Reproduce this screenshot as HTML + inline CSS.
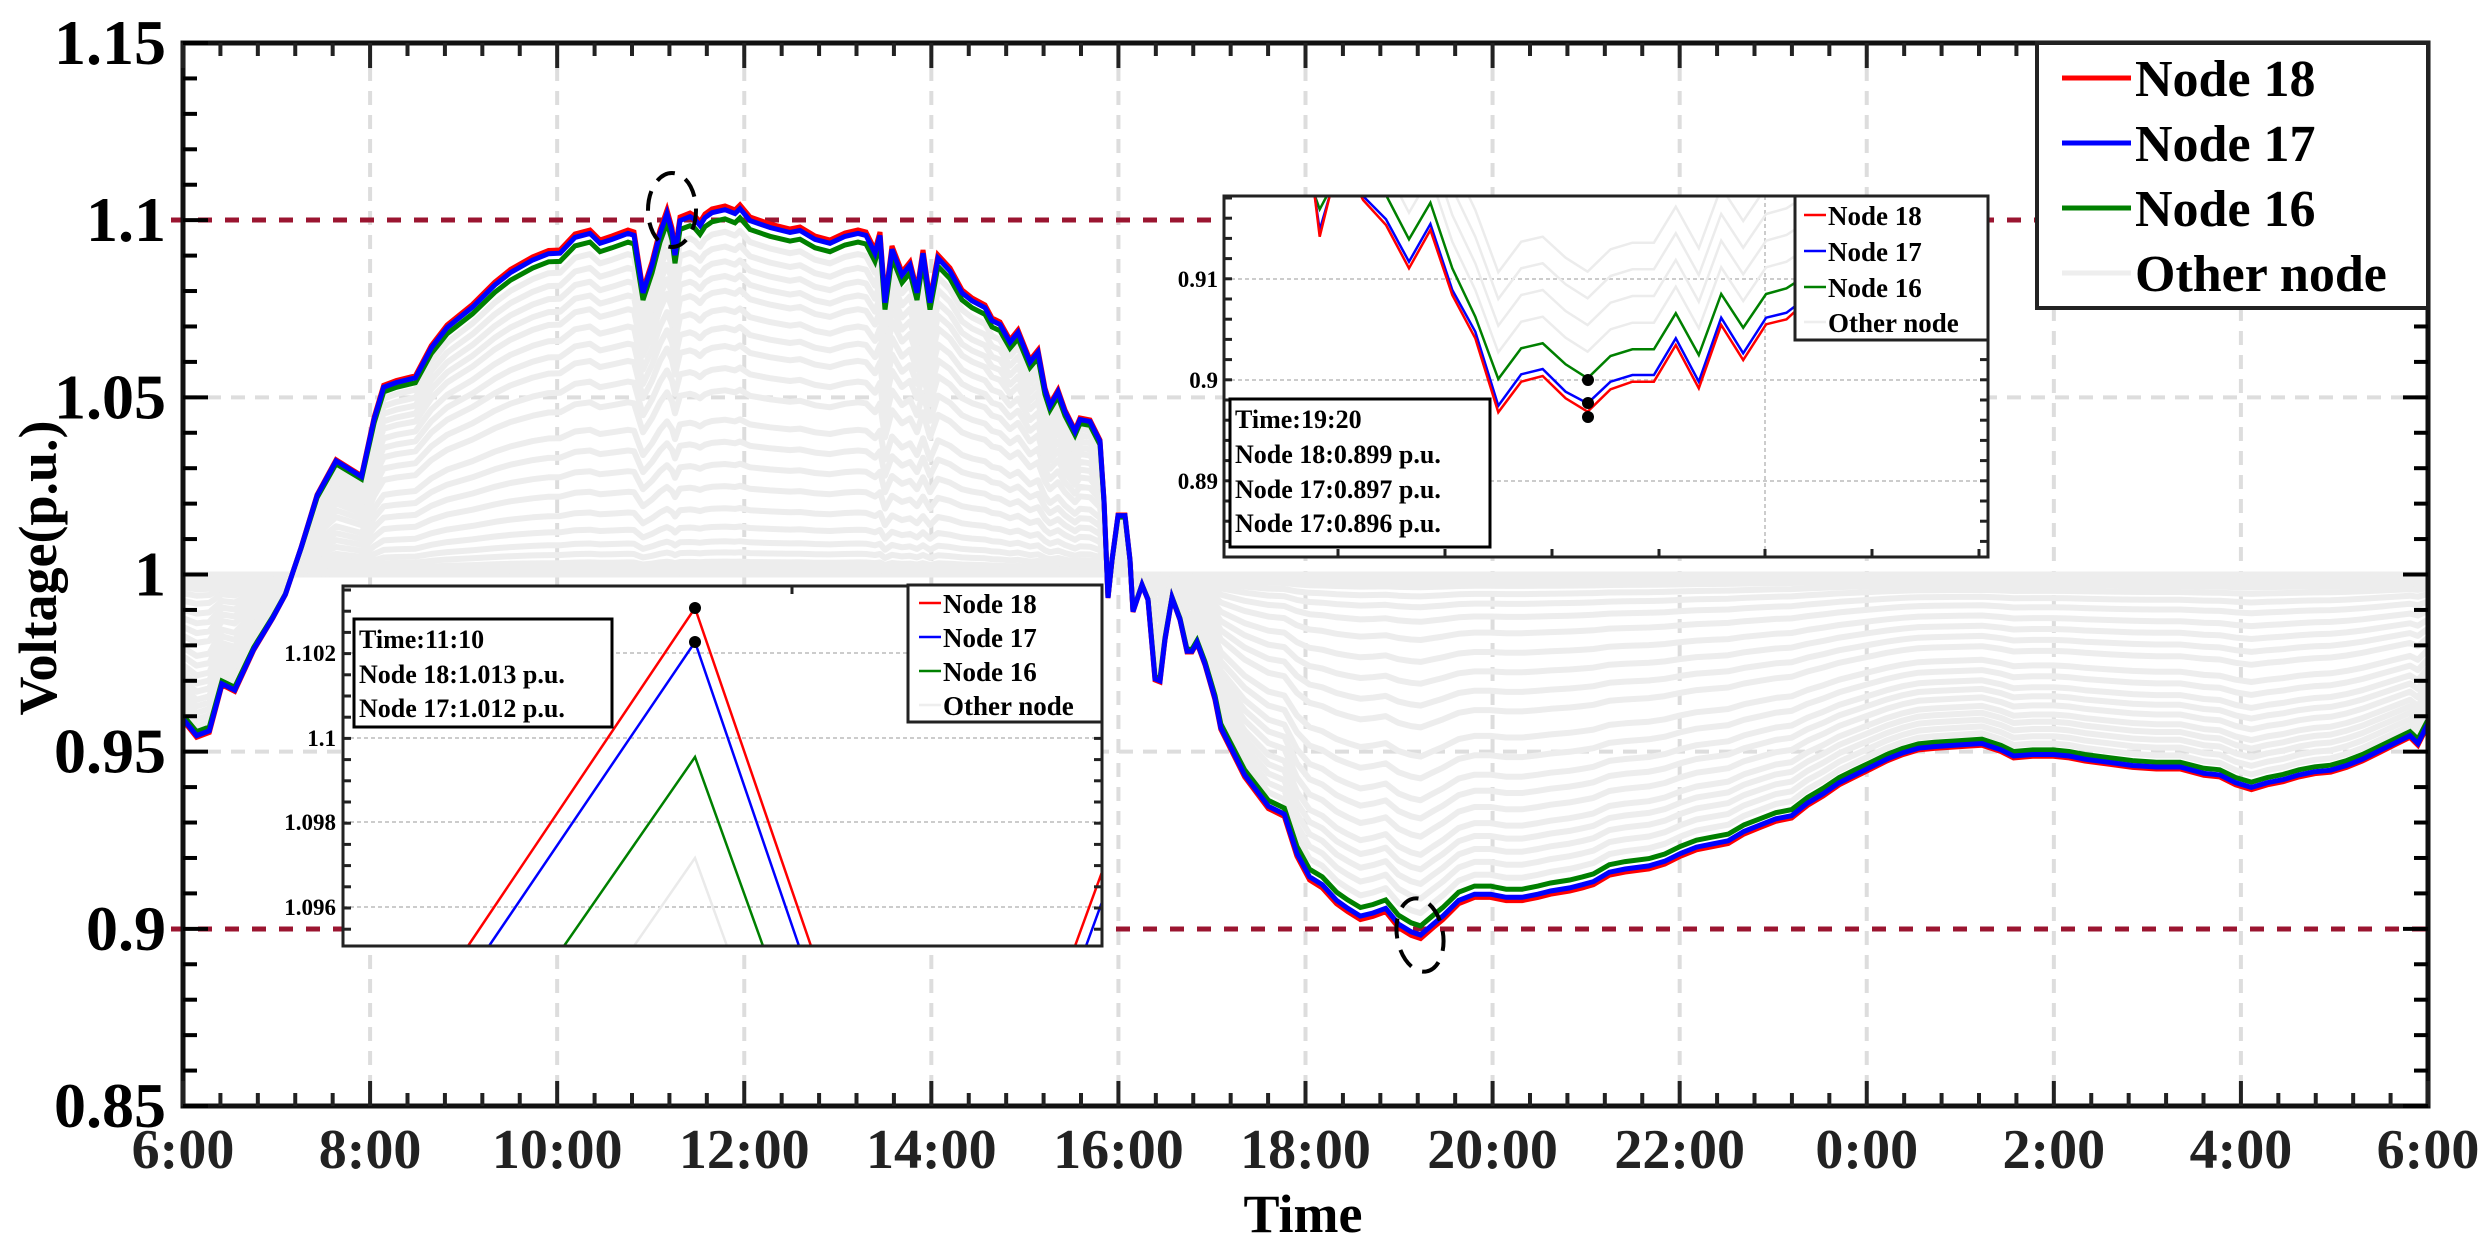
<!DOCTYPE html>
<html><head><meta charset="utf-8"><style>
html,body{margin:0;padding:0;background:#fff;}
svg{display:block;font-family:"Liberation Serif",serif;font-weight:bold;}
</style></head><body>
<svg id="s" width="2486" height="1255" viewBox="0 0 2486 1255" xmlns="http://www.w3.org/2000/svg">
<defs>
<clipPath id="pc"><rect x="183" y="43" width="2245" height="1063"/></clipPath>
<clipPath id="c1"><rect x="343" y="586" width="759" height="360"/></clipPath>
<clipPath id="c2"><rect x="1224" y="196" width="764" height="361"/></clipPath>
</defs>
<g id="grid"></g>
<g id="greys" clip-path="url(#pc)"></g>
<line x1="171" y1="220" x2="2428" y2="220" stroke="#9b1530" stroke-width="5" stroke-dasharray="14,13"/>
<line x1="171" y1="929" x2="2428" y2="929" stroke="#9b1530" stroke-width="5" stroke-dasharray="14,13"/>
<g id="cols" clip-path="url(#pc)"></g>
<ellipse cx="672" cy="210" rx="24" ry="37" fill="none" stroke="#000" stroke-width="4" stroke-dasharray="20,12"/>
<ellipse cx="1420" cy="935" rx="23" ry="37" fill="none" stroke="#000" stroke-width="4" stroke-dasharray="20,12" transform="rotate(-10 1420 935)"/>
<g id="axes"></g>
<!-- inset 1 -->
<g>
<rect x="343" y="586" width="759" height="360" fill="#fff"/>
<g stroke="#ccc" stroke-width="2" stroke-dasharray="4,3">
<line x1="343" y1="653" x2="1102" y2="653"/><line x1="343" y1="738" x2="1102" y2="738"/>
<line x1="343" y1="822" x2="1102" y2="822"/><line x1="343" y1="907" x2="1102" y2="907"/>
</g>
<g clip-path="url(#c1)" fill="none" stroke-width="2.5">
<polyline points="634,946 695,858 727,946" stroke="#eaeaea"/>
<polyline points="564,946 695,757 763,946" stroke="#008000"/>
<polyline points="489,946 695,642 799,946" stroke="#0000ff"/>
<polyline points="468,946 695,608 811,946" stroke="#ff0000"/>
<polyline points="1075,946 1102,872" stroke="#ff0000"/>
<polyline points="1086,946 1102,902" stroke="#0000ff"/>
</g>
<circle cx="695" cy="608" r="6"/><circle cx="695" cy="642" r="6"/>
<rect x="343" y="586" width="759" height="360" fill="none" stroke="#222" stroke-width="3"/>
<g id="t1"></g>
<g font-size="23" text-anchor="end">
<text x="336" y="661">1.102</text><text x="336" y="746">1.1</text>
<text x="336" y="830">1.098</text><text x="336" y="915">1.096</text>
</g>
<rect x="354" y="619" width="258" height="108" fill="#fff" stroke="#000" stroke-width="3"/>
<g font-size="26"><text x="359" y="648">Time:11:10</text><text x="359" y="683">Node 18:1.013 p.u.</text><text x="359" y="717">Node 17:1.012 p.u.</text></g>
<rect x="908" y="585" width="194" height="137" fill="#fff" stroke="#222" stroke-width="3"/>
<g stroke-width="2.5"><line x1="919" y1="603" x2="941" y2="603" stroke="#f00"/><line x1="919" y1="637" x2="941" y2="637" stroke="#00f"/><line x1="919" y1="671" x2="941" y2="671" stroke="#008000"/><line x1="919" y1="705" x2="941" y2="705" stroke="#eee"/></g>
<g font-size="27"><text x="943" y="613">Node 18</text><text x="943" y="647">Node 17</text><text x="943" y="681">Node 16</text><text x="943" y="715">Other node</text></g>
</g>
<!-- inset 2 -->
<g>
<rect x="1224" y="196" width="764" height="361" fill="#fff"/>
<g stroke="#ccc" stroke-width="2" stroke-dasharray="4,3">
<line x1="1224" y1="279" x2="1988" y2="279"/><line x1="1224" y1="380" x2="1988" y2="380"/><line x1="1224" y1="481" x2="1988" y2="481"/>
<line x1="1765" y1="196" x2="1765" y2="557"/>
</g>
<g id="in2" clip-path="url(#c2)" fill="none" stroke-width="2.5"></g>
<circle cx="1588" cy="380" r="6"/><circle cx="1588" cy="403" r="6"/><circle cx="1588" cy="417" r="6"/>
<rect x="1224" y="196" width="764" height="361" fill="none" stroke="#222" stroke-width="3"/>
<g id="t2"></g>
<g font-size="23" text-anchor="end"><text x="1218" y="287">0.91</text><text x="1218" y="388">0.9</text><text x="1218" y="489">0.89</text></g>
<rect x="1230" y="399" width="260" height="148" fill="#fff" stroke="#000" stroke-width="3"/>
<g font-size="26"><text x="1235" y="428">Time:19:20</text><text x="1235" y="463">Node 18:0.899 p.u.</text><text x="1235" y="498">Node 17:0.897 p.u.</text><text x="1235" y="532">Node 17:0.896 p.u.</text></g>
<rect x="1795" y="196" width="193" height="144" fill="#fff" stroke="#222" stroke-width="3"/>
<g stroke-width="2.5"><line x1="1804" y1="215" x2="1826" y2="215" stroke="#f00"/><line x1="1804" y1="251" x2="1826" y2="251" stroke="#00f"/><line x1="1804" y1="287" x2="1826" y2="287" stroke="#008000"/><line x1="1804" y1="322" x2="1826" y2="322" stroke="#eee"/></g>
<g font-size="27"><text x="1828" y="225">Node 18</text><text x="1828" y="261">Node 17</text><text x="1828" y="297">Node 16</text><text x="1828" y="332">Other node</text></g>
</g>
<!-- main legend -->
<rect x="2037" y="43" width="391" height="265" fill="#fff" stroke="#222" stroke-width="4"/>
<g stroke-width="5"><line x1="2062" y1="78" x2="2131" y2="78" stroke="#f00"/><line x1="2062" y1="143" x2="2131" y2="143" stroke="#00f"/><line x1="2062" y1="208" x2="2131" y2="208" stroke="#008000"/><line x1="2062" y1="273" x2="2131" y2="273" stroke="#eee"/></g>
<g font-size="52"><text x="2135" y="96">Node 18</text><text x="2135" y="161">Node 17</text><text x="2135" y="226">Node 16</text><text x="2135" y="291">Other node</text></g>
<g id="labels"></g>
<text x="1303" y="1232" font-size="54" text-anchor="middle">Time</text>
<text transform="translate(56,568) rotate(-90)" font-size="54" text-anchor="middle">Voltage(p.u.)</text>
</svg>
<script>
var NS="http://www.w3.org/2000/svg";
function el(p,t,a){var e=document.createElementNS(NS,t);for(var k in a)e.setAttribute(k,a[k]);document.getElementById(p).appendChild(e);return e;}
var L=183,R=2428,T=43,B=1106;
for(var k=1;k<12;k++){var x=L+k*(R-L)/12;el("grid","line",{x1:x,y1:T,x2:x,y2:B,stroke:"#ddd","stroke-width":4,"stroke-dasharray":"14,10"});}
[1.05,1.0,0.95].forEach(function(v){var y=B-(v-0.85)*3543.3;el("grid","line",{x1:L,y1:y,x2:R,y2:y,stroke:"#ddd","stroke-width":4,"stroke-dasharray":"14,10"});});
el("axes","rect",{x:L,y:T,width:R-L,height:B-T,fill:"none",stroke:"#111","stroke-width":5});
for(var k=0;k<=60;k++){var x=L+k*(R-L)/60;var len=k%5==0?25:13;
el("axes","line",{x1:x,y1:B,x2:x,y2:B-len,stroke:"#222","stroke-width":4});
el("axes","line",{x1:x,y1:T,x2:x,y2:T+len,stroke:"#222","stroke-width":4});}
for(var k=0;k<=30;k++){var y=T+k*(B-T)/30;var len=k%5==0?25:14;
el("axes","line",{x1:L,y1:y,x2:L+len,y2:y,stroke:"#000","stroke-width":4});
el("axes","line",{x1:R,y1:y,x2:R-len,y2:y,stroke:"#000","stroke-width":4});}
var yl=["1.15","1.1","1.05","1","0.95","0.9","0.85"];
for(var k=0;k<7;k++){var t=el("labels","text",{x:166,y:T+k*(B-T)/6+21,"text-anchor":"end","font-size":64});t.textContent=yl[k];}
var xl=["6:00","8:00","10:00","12:00","14:00","16:00","18:00","20:00","22:00","0:00","2:00","4:00","6:00"];
for(var k=0;k<13;k++){var t=el("labels","text",{x:L+k*(R-L)/12,y:1168,"text-anchor":"middle",fill:"#222","font-size":56});t.textContent=xl[k];}
for(var y=590;y<946;y+=21.2){el("t1","line",{x1:343,y1:y,x2:351,y2:y,stroke:"#222","stroke-width":3});el("t1","line",{x1:1102,y1:y,x2:1094,y2:y,stroke:"#222","stroke-width":3});}
for(var y=198;y<557;y+=20.2){el("t2","line",{x1:1224,y1:y,x2:1232,y2:y,stroke:"#222","stroke-width":3});el("t2","line",{x1:1988,y1:y,x2:1980,y2:y,stroke:"#222","stroke-width":3});}
[1338,1445,1552,1659,1765,1872,1979].forEach(function(x){el("t2","line",{x1:x,y1:557,x2:x,y2:549,stroke:"#222","stroke-width":3});});
[792].forEach(function(x){el("t1","line",{x1:x,y1:586,x2:x,y2:594,stroke:"#222","stroke-width":3});});
var S=1.5855;
var th1=[[116,455],[124,465],[132,462],[140,432],[148,436],[160,410],[172,390],[180,375],[190,345],[200,312],[212,290],[220,295],[228,300],[236,263],[242,243],[250,240],[262,237],[272,218],[282,205],[298,192],[312,178],[322,170],[336,162],[346,158]];
var o1=[[560,250],[575,234],[590,230],[600,240],[612,236],[628,230],[634,232],[643,290],[652,262],[660,230],[667,210],[672,228],[675,252],[680,217],[690,213],[695,216],[700,222],[705,214],[712,209],[725,206],[735,210],[740,205],[750,217],[770,224],[790,229],[800,227],[815,236],[830,240],[845,233],[858,230],[866,232],[875,250],[880,232],[885,300],[892,246],[902,272],[910,262],[917,290],[923,250],[930,300],[938,255],[950,268],[962,290],[972,298],[985,305],[992,318],[1000,322],[1010,340],[1018,330],[1030,360],[1038,350],[1045,388],[1050,404],[1058,390],[1065,410],[1075,430],[1080,418],[1090,420],[1094,428],[1100,440],[1104,500],[1108,598],[1112,560],[1118,515],[1125,515],[1130,560],[1133,612],[1137,600],[1142,585],[1148,600],[1155,680],[1160,682],[1165,640],[1172,598],[1180,620],[1187,652],[1192,652],[1197,643],[1205,665],[1215,700]];
var th2=[[770,460],[785,490],[800,510],[810,515],[818,540],[826,555],[834,560],[843,570],[850,575],[858,580],[866,578],[874,575],[882,585],[890,590],[896,592],[904,585],[910,580],[920,570],[930,566],[940,566],[950,568],[960,568],[970,566],[978,564],[990,562],[998,560],[1005,558],[1015,552],[1025,550],[1040,548],[1050,545],[1060,540],[1070,536],[1080,534],[1090,532],[1100,526],[1110,522],[1120,518],[1130,516],[1140,508],[1150,502],[1160,495],[1170,490],[1180,485],[1190,480],[1200,476],[1210,473],[1220,472],[1235,471],[1250,470],[1262,474],[1270,478],[1282,477],[1295,477],[1305,478],[1315,480],[1330,482],[1345,484],[1360,485],[1375,485],[1390,489],[1400,490],[1410,495],[1420,498],[1430,495],[1440,493],[1450,490],[1460,488],[1470,487],[1480,484],[1490,480],[1500,475],[1510,470],[1520,465],[1525,470],[1531,458]];
var pts=th1.map(function(p){return [p[0]*S,p[1]*S];}).concat(o1).concat(th2.map(function(p){return [p[0]*S,p[1]*S];}));
var y1=B-0.15*3543.3;
function path(r){return pts.map(function(p){return p[0].toFixed(1)+","+(y1+(p[1]-y1)*r).toFixed(1);}).join(" ");}
var gr=[0,0.006,0.012,0.02,0.035,0.06,0.09,0.13,0.18,0.24,0.3,0.36,0.42,0.5,0.56,0.62,0.67,0.72,0.77,0.81,0.85,0.89,0.93];
gr.forEach(function(r){el("greys","polyline",{points:path(r),fill:"none",stroke:"#ededed","stroke-width":6,"stroke-linejoin":"round"});});
el("cols","polyline",{points:path(0.965),fill:"none",stroke:"#008000","stroke-width":5});
el("cols","polyline",{points:path(1.0),fill:"none",stroke:"#ff0000","stroke-width":5});
el("cols","polyline",{points:path(0.99),fill:"none",stroke:"#0000ff","stroke-width":5});
function z(a){return a.map(function(p){return (1210+p[0]/1.96).toFixed(1)+","+(180+p[1]/3).toFixed(1);}).join(" ");}
var G=[[190,-20],[205,45],[215,88],[230,45],[345,45],[390,178],[432,68],[475,265],[520,410],[565,597],[610,505],[652,490],[697,553],[740,595],[785,528],[828,508],[870,508],[913,400],[958,525],[1002,342],[1045,443],[1090,342],[1130,325],[1150,305],[1200,250],[1560,150]];
var Bl=[[190,-20],[205,45],[215,150],[235,45],[298,45],[345,118],[390,245],[432,132],[475,330],[520,455],[565,677],[610,583],[652,567],[697,635],[740,670],[785,605],[828,585],[870,585],[913,475],[958,605],[1002,413],[1045,520],[1090,413],[1130,398],[1150,375],[1200,320],[1560,220]];
var Rd=[[190,-20],[205,45],[215,170],[235,45],[295,45],[300,60],[345,135],[390,265],[432,150],[475,345],[520,475],[565,697],[610,605],[652,588],[697,655],[740,695],[785,628],[828,605],[870,605],[913,495],[958,625],[1002,435],[1045,540],[1090,433],[1130,418],[1150,390],[1200,335],[1560,235]];
[80,160,240,320].forEach(function(d){el("in2","polyline",{points:z(G.map(function(p){return [p[0],p[1]-d];})),stroke:"#ececec"});});
el("in2","polyline",{points:z(G),stroke:"#008000"});
el("in2","polyline",{points:z(Bl),stroke:"#0000ff"});
el("in2","polyline",{points:z(Rd),stroke:"#ff0000"});
</script>
</body></html>
